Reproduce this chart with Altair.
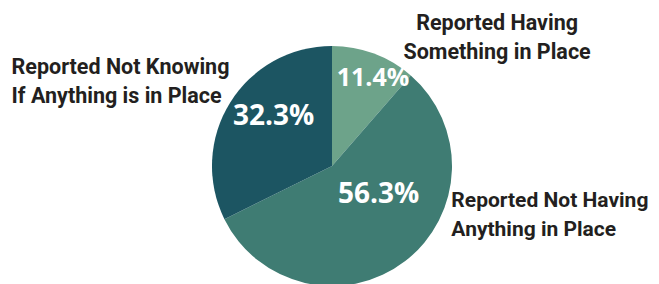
import altair as alt
import pandas as pd

categories = [
    "Reported Having Something in Place",
    "Reported Not Having Anything in Place",
    "Reported Not Knowing If Anything is in Place",
]
values = [11.4, 56.3, 32.3]
pct_labels = ["11.4%", "56.3%", "32.3%"]
outer_labels = [
    "Reported Having\nSomething in Place",
    "Reported Not Having\nAnything in Place",
    "Reported Not Knowing\nIf Anything is in Place",
]
colors = ["#6da38a", "#3f7c73", "#1c5562"]

df = pd.DataFrame({
    "cat": categories,
    "value": values,
    "pct": pct_labels,
    "outer": outer_labels,
    "idx": list(range(len(categories))),
})

PCT_FONT = "Open Sans"
LBL_FONT = "Roboto"
CX, CY, R = 324, 158, 120
theta_scale = alt.Scale(domain=[0, 100])

base = alt.Chart(df)

arcs = base.mark_arc(outerRadius=R, strokeWidth=0).encode(
    theta=alt.Theta("value:Q", stack=True, scale=theta_scale),
    order=alt.Order("idx:Q"),
    color=alt.Color("cat:N", scale=alt.Scale(domain=categories, range=colors), legend=None),
    x=alt.value(CX),
    y=alt.value(CY),
)

stacked = base.transform_stack(
    stack="value", groupby=[], as_=["v0", "v1"], sort=[alt.SortField("idx")]
).transform_calculate(mid="(datum.v0 + datum.v1) / 2")


def label(i, field, radius, dx, dy, **kw):
    return stacked.transform_filter(alt.datum.idx == i).mark_text(
        radius=radius, dx=dx, dy=dy, fontWeight="bold", lineBreak="\n", **kw
    ).encode(
        theta=alt.Theta("mid:Q", stack=False, scale=theta_scale),
        text=alt.Text(f"{field}:N"),
        x=alt.value(CX),
        y=alt.value(CY),
    )


pct = dict(font=PCT_FONT, color="white", align="center", baseline="middle")
pct_a = label(0, "pct", 97, 7, 3, fontSize=25, **pct)
pct_b = label(1, "pct", 55, 13, -15, fontSize=28, **pct)
pct_c = label(2, "pct", 77, 7, -8, fontSize=28, **pct)

txt = dict(font=LBL_FONT, color="#231f20", baseline="alphabetic", lineHeight=29)
out_a = label(0, "outer", 140, 116, -5, align="center", fontSize=21.5, **txt)
out_b = label(1, "outer", 130, 40, -62, align="left", fontSize=21, **txt)
out_c = label(2, "outer", 130, -210, -23, align="left", fontSize=21.5, **txt)

chart = alt.layer(arcs, pct_a, pct_b, pct_c, out_a, out_b, out_c).properties(
    width=643,
    height=276,
    autosize=alt.AutoSizeParams(type="none"),
    padding=0,
).configure_view(stroke=None)

chart.save("out.html", embed_options={"renderer": "svg", "actions": False})
